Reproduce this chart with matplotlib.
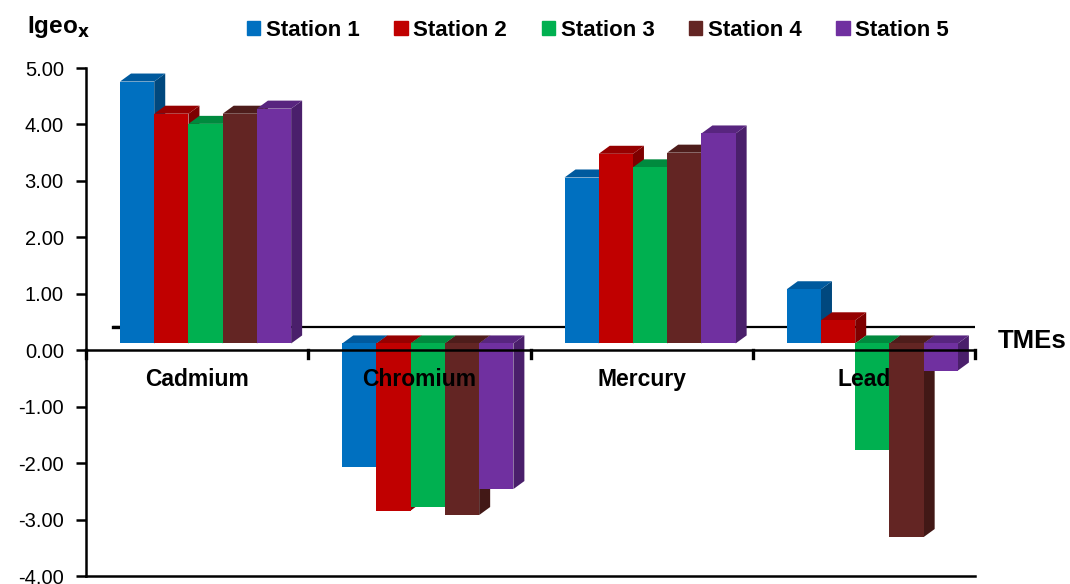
import matplotlib.pyplot as plt
import matplotlib.patches as mpatches
import numpy as np

plt.rcParams['font.family'] = ['Liberation Sans', 'DejaVu Sans']
plt.rcParams['axes.unicode_minus'] = False

elements = ["Cadmium", "Chromium", "Mercury", "Lead"]
stations = ["Station 1", "Station 2", "Station 3", "Station 4", "Station 5"]

# Igeo per element, one list per station
station_1 = [4.64, -2.19, 2.94, 0.96]
station_2 = [4.07, -2.96, 3.36, 0.41]
station_3 = [3.89, -2.90, 3.12, -1.89]
station_4 = [4.07, -3.04, 3.38, -3.43]
station_5 = [4.16, -2.58, 3.72, -0.48]

front_colors = ["#0070C0", "#C00000", "#00B050", "#632523", "#7030A0"]
top_colors = ["#005A9E", "#960000", "#008A3E", "#4E1D1B", "#58257F"]
side_colors = ["#00487E", "#7E0000", "#006E30", "#421816", "#4A1F6B"]

series = [station_1, station_2, station_3, station_4, station_5]

# pseudo-3D geometry (data units)
bar_w = 0.154
first_off = 0.153
dx, dy = 0.0495, 0.142
base = 0.12
floor_dx, floor_dy = 0.121, 0.41

fig = plt.figure(figsize=(10.7, 5.84), dpi=100)
ax = fig.add_axes([86 / 1070, 8 / 584, 889 / 1070, 508 / 584])
ax.set_xlim(0, 4)
ax.set_ylim(-4, 5)

# back edge of the floor
ax.plot([floor_dx, len(elements) + floor_dx], [floor_dy, floor_dy],
        color="black", lw=1.6, zorder=1, solid_capstyle="butt")
ax.plot([floor_dx, floor_dx + 0.022], [floor_dy, floor_dy], color="black", lw=2.4, zorder=1)

for i in range(len(elements)):
    for k, vals in enumerate(series):
        v = vals[i]
        x0 = i + first_off + k * bar_w
        x1 = x0 + bar_w
        lo, hi = (base, base + v) if v >= 0 else (base + v, base)
        z = 2 + k * 0.1
        front = mpatches.Polygon([(x0, lo), (x1, lo), (x1, hi), (x0, hi)],
                                 closed=True, fc=front_colors[k], ec="none", zorder=z)
        top = mpatches.Polygon([(x0, hi), (x1, hi), (x1 + dx, hi + dy), (x0 + dx, hi + dy)],
                               closed=True, fc=top_colors[k], ec="none", zorder=z)
        side = mpatches.Polygon([(x1, lo), (x1 + dx, lo + dy), (x1 + dx, hi + dy), (x1, hi)],
                                closed=True, fc=side_colors[k], ec="none", zorder=z)
        for p in (side, top, front):
            ax.add_patch(p)

# front zero line with category ticks
ax.axhline(0, color="black", lw=1.8, zorder=5)
for b in range(len(elements) + 1):
    ax.plot([b, b], [0, -0.13], color="black", lw=2.4, zorder=5, clip_on=False)

for i, name in enumerate(elements):
    ax.text(i + 0.5, -0.52, name, ha="center", va="center",
            fontsize=16.5, fontweight="bold", zorder=6)

ax.spines["top"].set_visible(False)
ax.spines["right"].set_visible(False)
ax.spines["left"].set_linewidth(1.8)
ax.spines["bottom"].set_linewidth(1.8)
ax.set_xticks([])
ax.set_yticks(np.arange(-4, 6, 1))
ax.set_yticklabels(["%.2f" % t for t in np.arange(-4, 6, 1)])
ax.tick_params(axis="y", labelsize=14.5, length=7, width=1.8, pad=9)

fig.text(27 / 1070, 1 - 27 / 584, "Igeo$_\\mathbf{x}$", fontsize=17.5, fontweight="bold",
         va="center", ha="left")
fig.text(998 / 1070, 1 - 341 / 584, "TMEs", fontsize=18.5, fontweight="bold",
         va="center", ha="left")

handles = [mpatches.Patch(color=c, label=s) for c, s in zip(front_colors, stations)]
fig.legend(handles=handles, loc="center", bbox_to_anchor=(598 / 1070, 1 - 30 / 584),
           ncol=5, frameon=False, prop={"weight": "bold", "size": 16},
           handlelength=0.6, handleheight=0.6, handletextpad=0.25, columnspacing=1.56,
           borderpad=0.2)

fig.savefig("out.png", dpi=100)
